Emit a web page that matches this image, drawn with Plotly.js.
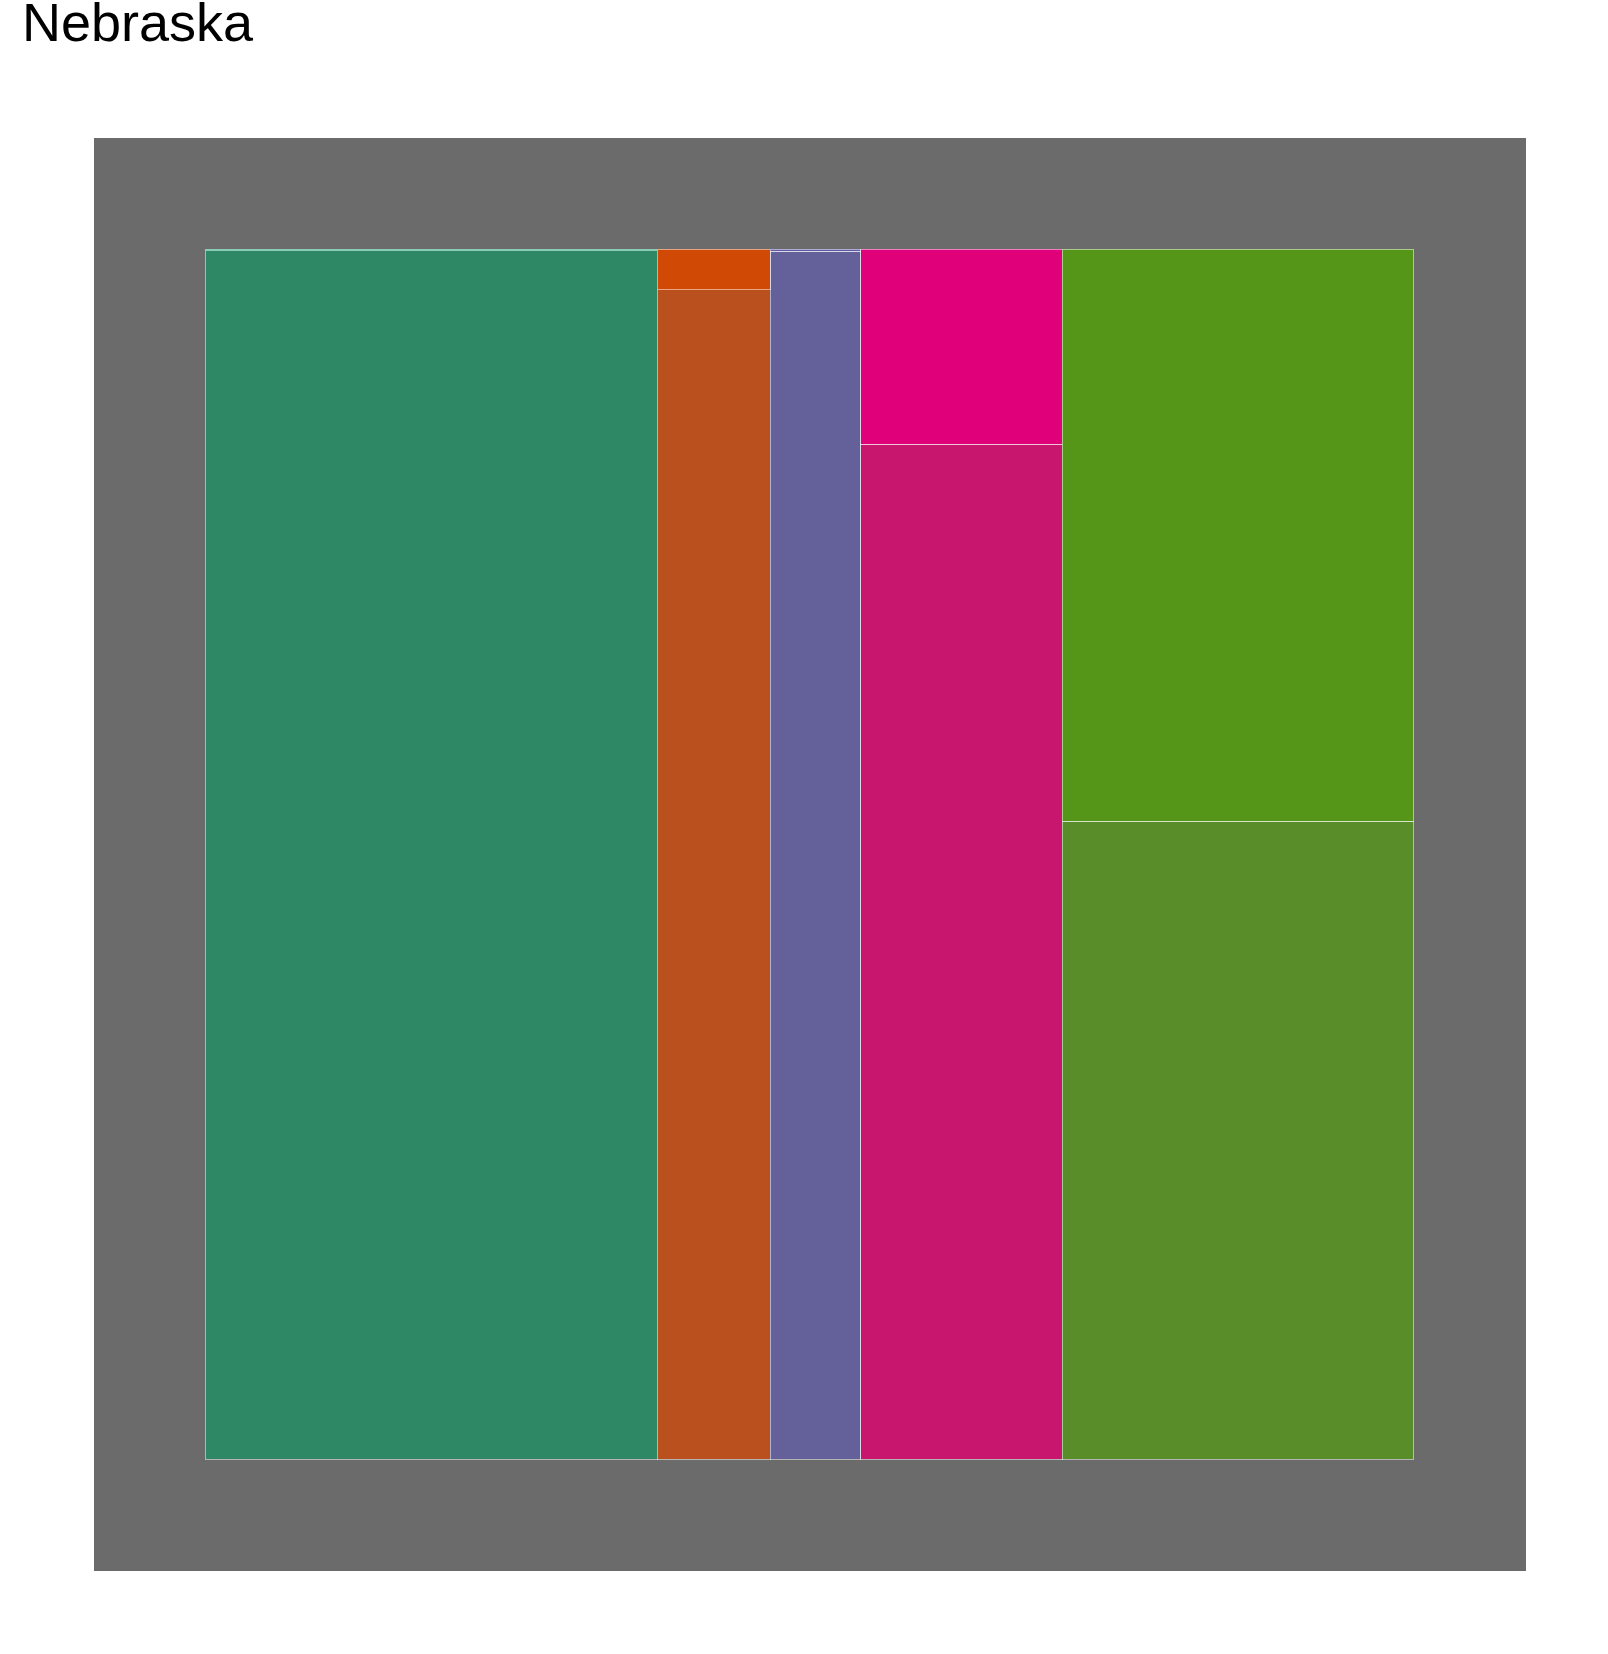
<!DOCTYPE html>
<html>
<head>
<meta charset="utf-8">
<script src="https://cdn.plot.ly/plotly-3.0.1.min.js"></script>
<style>html,body{margin:0;padding:0;background:#fff;}</style>
</head>
<body>
<div id="chart" style="width:1608px;height:1654px;"></div>
<script>
// Column groups (share of total width, %)
var categories = ['Group 1', 'Group 2', 'Group 3', 'Group 4', 'Group 5'];
var columnShare = [37.41, 9.35, 7.48, 16.70, 29.06];
// Segment shares within each column (%)
var bottomShare = [99.86, 96.65, 99.85, 83.87, 52.71];
var topShare = [0.14, 3.35, 0.15, 16.13, 47.29];
// Colours
var bottomColors = ['#2e8865', '#b9501e', '#646099', '#c8166f', '#588d2a'];
var topColors = ['#12976a', '#d04a05', '#5f58a6', '#df007a', '#559619'];

var lefts = [];
var acc = 0;
for (var i = 0; i < columnShare.length; i++) { lefts.push(acc); acc += columnShare[i]; }
var centers = lefts.map(function (l, i) { return l + columnShare[i] / 2; });

var lineStyle = {color: 'rgba(255,255,255,0.5)', width: 1};

var traces = [
  {
    type: 'bar', x: centers, y: bottomShare, width: columnShare,
    text: categories, hoverinfo: 'text+y', textposition: 'none',
    marker: {color: bottomColors, line: lineStyle}
  },
  {
    type: 'bar', x: centers, y: topShare, width: columnShare,
    text: categories, hoverinfo: 'text+y', textposition: 'none',
    marker: {color: topColors, line: lineStyle}
  }
];

var axisStyle = {
  showgrid: false, zeroline: false, showticklabels: false, showline: false,
  ticks: '', fixedrange: true
};

var layout = {
  width: 1608, height: 1654,
  margin: {l: 94, r: 82, t: 138, b: 83, pad: 0},
  paper_bgcolor: '#ffffff',
  plot_bgcolor: '#6b6b6b',
  barmode: 'stack',
  bargap: 0,
  showlegend: false,
  title: {
    text: 'Nebraska',
    font: {family: 'Liberation Sans, Arial, sans-serif', size: 54, color: '#000000'},
    xref: 'container', x: 0.0137, xanchor: 'left',
    yref: 'container', y: 0.9865, yanchor: 'middle'
  },
  xaxis: Object.assign({range: [-9.2, 109.3]}, axisStyle),
  yaxis: Object.assign({range: [-9.25, 109.2]}, axisStyle)
};

Plotly.newPlot('chart', traces, layout, {displayModeBar: false, staticPlot: true});
</script>
</body>
</html>
